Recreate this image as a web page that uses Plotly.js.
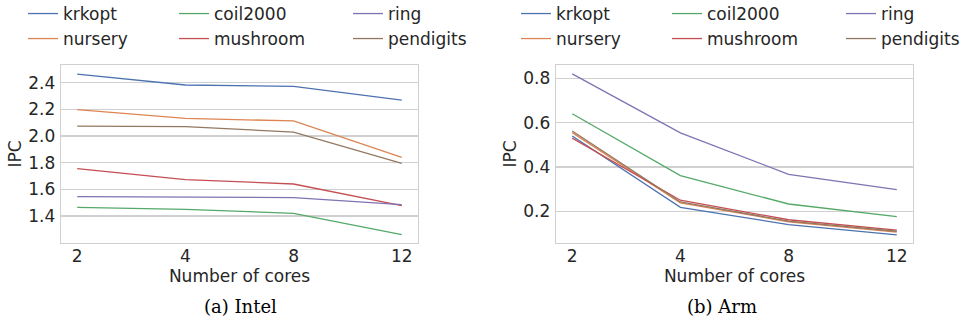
<!DOCTYPE html>
<html>
<head>
<meta charset="utf-8">
<script src="https://cdn.plot.ly/plotly-3.0.1.min.js"></script>
<style>html,body{margin:0;padding:0;background:#fff;}#chart{width:963px;height:322px;}</style>
</head>
<body>
<div id="chart"></div>
<script>
const cores = ['2', '4', '8', '12'];
const seriesNames = ['krkopt', 'nursery', 'coil2000', 'mushroom', 'ring', 'pendigits'];
const colors = ['#4C72B0', '#DD8452', '#55A868', '#C44E52', '#8172B3', '#937860'];

const intelKrkopt = [2.465, 2.383, 2.373, 2.27];
const intelNursery = [2.198, 2.133, 2.113, 1.84];
const intelCoil2000 = [1.465, 1.45, 1.42, 1.26];
const intelMushroom = [1.755, 1.673, 1.64, 1.478];
const intelRing = [1.545, 1.543, 1.538, 1.485];
const intelPendigits = [2.075, 2.07, 2.03, 1.795];

const armKrkopt = [0.54, 0.218, 0.14, 0.094];
const armNursery = [0.555, 0.238, 0.153, 0.106];
const armCoil2000 = [0.64, 0.361, 0.233, 0.176];
const armMushroom = [0.53, 0.25, 0.162, 0.115];
const armRing = [0.82, 0.554, 0.367, 0.298];
const armPendigits = [0.562, 0.242, 0.156, 0.11];

const intelTicks = [1.4, 1.6, 1.8, 2.0, 2.2, 2.4];
const armTicks = [0.2, 0.4, 0.6, 0.8];

const intelData = [intelKrkopt, intelNursery, intelCoil2000, intelMushroom, intelRing, intelPendigits];
const armData = [armKrkopt, armNursery, armCoil2000, armMushroom, armRing, armPendigits];

const entryWidths = [106, 106, 129, 129, 90, 90];
const textColor = '#262626';
const gridColor = '#d0d0d0';
const fontFam = 'DejaVu Sans, sans-serif';

const traces = [];
seriesNames.forEach((name, i) => {
  traces.push({
    type: 'scatter', mode: 'lines', x: cores, y: intelData[i], name: name,
    line: {color: colors[i], width: 1.3},
    xaxis: 'x', yaxis: 'y',
    legend: (i % 2 === 0) ? 'legend' : 'legend2',
    legendwidth: entryWidths[i]
  });
});
seriesNames.forEach((name, i) => {
  traces.push({
    type: 'scatter', mode: 'lines', x: cores, y: armData[i], name: name,
    line: {color: colors[i], width: 1.3},
    xaxis: 'x2', yaxis: 'y2',
    legend: (i % 2 === 0) ? 'legend3' : 'legend4',
    legendwidth: entryWidths[i]
  });
});

function xax(domain, anchor) {
  return {
    domain: domain, anchor: anchor, type: 'category',
    categoryorder: 'array', categoryarray: cores,
    range: [-0.15, 3.15], automargin: false,
    showgrid: false, zeroline: false,
    showline: true, mirror: true, linecolor: gridColor, linewidth: 1.3,
    ticks: '', ticklabelstandoff: -3,
    tickfont: {size: 17, color: textColor, family: fontFam},
    title: {text: 'Number of cores', font: {size: 17, color: textColor, family: fontFam}, standoff: 0},
    fixedrange: true
  };
}
function yax(range, ticks, anchor) {
  return {
    domain: [0.2453, 0.7981], anchor: anchor, automargin: false,
    range: range, tickmode: 'array', tickvals: ticks,
    ticktext: ticks.map(v => v.toFixed(1)),
    showgrid: true, gridcolor: gridColor, gridwidth: 1.1, zeroline: false,
    showline: true, mirror: true, linecolor: gridColor, linewidth: 1.3,
    ticks: '', ticklabelstandoff: 1,
    tickfont: {size: 17, color: textColor, family: fontFam},
    title: {text: 'IPC', font: {size: 17, color: textColor, family: fontFam}, standoff: 2},
    fixedrange: true
  };
}
function leg(xpx, ypx) {
  return {
    orientation: 'h', x: xpx / 963, y: 1 - ypx / 322, xanchor: 'left', yanchor: 'middle',
    font: {size: 17, color: textColor, family: fontFam},
    bgcolor: 'rgba(0,0,0,0)', borderwidth: 0, tracegroupgap: 0, itemclick: false
  };
}

const layout = {
  width: 963, height: 322,
  margin: {l: 0, r: 0, t: 0, b: 0, autoexpand: false},
  paper_bgcolor: '#ffffff', plot_bgcolor: '#ffffff',
  font: {family: fontFam, color: textColor},
  showlegend: true,
  xaxis: xax([61 / 963, 418 / 963], 'y'),
  yaxis: yax([1.197, 2.533], intelTicks, 'x'),
  xaxis2: xax([556 / 963, 913 / 963], 'y2'),
  yaxis2: yax([0.057, 0.86], armTicks, 'x2'),
  legend: leg(23, 14),
  legend2: leg(23, 39),
  legend3: leg(516, 14),
  legend4: leg(516, 39),
  annotations: [
    {text: '(a) Intel', xref: 'paper', yref: 'paper', x: 240 / 963, y: 1 - 306 / 322,
     xanchor: 'center', yanchor: 'middle', showarrow: false,
     font: {family: 'DejaVu Serif, serif', size: 18, color: '#000'}},
    {text: '(b) Arm', xref: 'paper', yref: 'paper', x: 722 / 963, y: 1 - 306 / 322,
     xanchor: 'center', yanchor: 'middle', showarrow: false,
     font: {family: 'DejaVu Serif, serif', size: 18, color: '#000'}}
  ]
};

Plotly.newPlot('chart', traces, layout, {displayModeBar: false, staticPlot: true});
</script>
</body>
</html>
